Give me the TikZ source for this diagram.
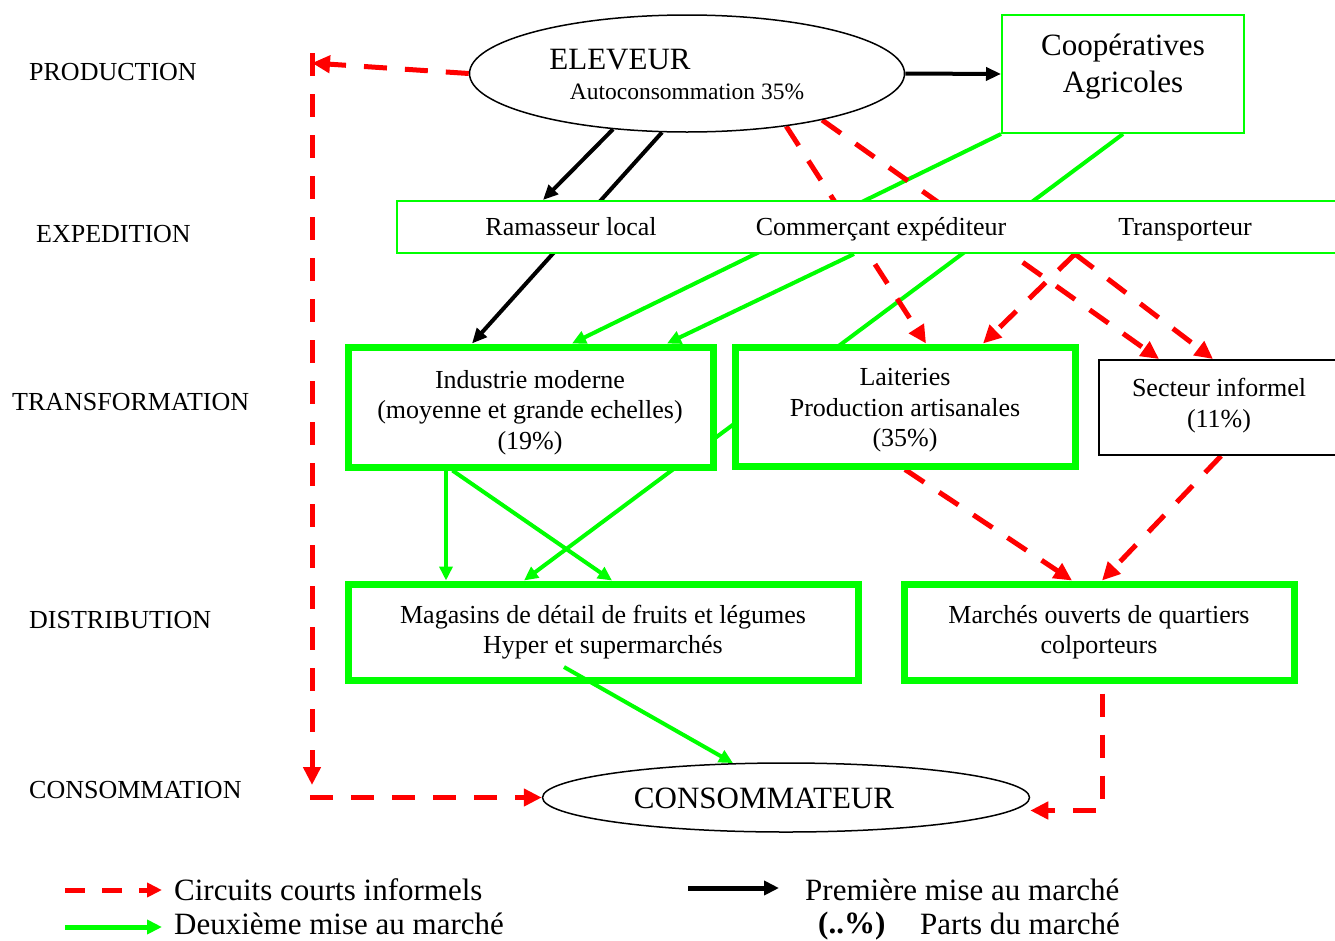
\documentclass[tikz,border=0pt]{standalone}
\usepackage{fontspec}
\setmainfont{Liberation Serif}
\usetikzlibrary{arrows.meta,shapes.geometric}
\pgfdeclarelayer{bg}
\pgfsetlayers{bg,main}
\definecolor{vert}{RGB}{0,255,0}
\definecolor{rouge}{RGB}{255,0,0}
\newcommand{\fLab}{\fontsize{26}{30.5}\selectfont}
\newcommand{\fBig}{\fontsize{31}{37}\selectfont}
\newcommand{\fSmall}{\fontsize{23.5}{28}\selectfont}
\tikzset{
  thickbox/.style={draw=vert, line width=7pt, fill=white, align=center, font=\fLab},
  thinbox/.style={draw=vert, line width=2pt, fill=white},
  blackbox/.style={draw=black, line width=2pt, fill=white},
  oval/.style={ellipse, draw=black, line width=1.5pt, fill=white},
  txt/.style={inner sep=0pt, font=\fLab},
  boxtxt/.style={inner sep=0pt, font=\fLab, align=center},
  legtxt/.style={inner sep=0pt, font=\fBig, anchor=base west},
  redarrow/.style={draw=rouge, line width=5pt, dash pattern=on 23pt off 18pt,
    -{Triangle[length=18pt,width=17pt]}},
  grnarrow/.style={draw=vert, line width=4pt, -{Triangle[length=14pt,width=13pt]}},
  blkarrow/.style={draw=black, line width=4pt, -{Triangle[length=15pt,width=13pt]}},
}
\begin{document}
\begin{tikzpicture}[x=1pt,y=-1pt]
\useasboundingbox (0,0) rectangle (1335,940);

% level labels
\node[txt, anchor=base west] (lprod) at (29,80.5) {PRODUCTION};
\node[txt, anchor=base west] (lexp) at (36,242.5) {EXPEDITION};
\node[txt, anchor=base west] (ltrans) at (12,410.5) {TRANSFORMATION};
\node[txt, anchor=base west] (ldist) at (29,628.5) {DISTRIBUTION};
\node[txt, anchor=base west] (lcons) at (29,798.5) {CONSOMMATION};

% production
\node[oval, minimum width=435pt, minimum height=117pt] (elev) at (687,73.5) {};
\node[txt, font=\fBig, anchor=base] (elevT) at (620,69) {ELEVEUR};
\node[txt, font=\fSmall, anchor=base] (elevS) at (687,99) {Autoconsommation 35\%};
\node[thinbox, minimum width=242pt, minimum height=118pt] (coop) at (1123,74) {};
\node[txt, font=\fBig, align=center] (coopT) at (1123,67) {Coopératives\\Agricoles};

% expedition
\node[thinbox, minimum width=950pt, minimum height=52pt] (exped) at (872,227) {};
\node[txt, anchor=base] (ramas) at (571,235) {Ramasseur local};
\node[txt, anchor=base] (comm) at (881,235) {Commerçant expéditeur};
\node[txt, anchor=base] (transp) at (1185,235) {Transporteur};

% transformation
\node[thickbox, minimum width=365pt, minimum height=120pt] (indus) at (530.5,407) {};
\node[boxtxt] (indusT) at (530,412.5)
  {Industrie moderne\\(moyenne et grande echelles)\\(19\%)};
\node[thickbox, minimum width=340pt, minimum height=119pt] (lait) at (905,406.5) {};
\node[boxtxt] (laitT) at (905,410.5)
  {Laiteries\\Production artisanales\\(35\%)};
\node[blackbox, minimum width=246pt, minimum height=95pt] (sect) at (1222,407.5) {};
\node[boxtxt] (sectT) at (1219,405.5) {Secteur informel\\(11\%)};

% distribution
\node[thickbox, minimum width=510pt, minimum height=96pt] (mag) at (603,632)
  {Magasins de détail de fruits et légumes\\Hyper et supermarchés};
\node[thickbox, minimum width=390pt, minimum height=96pt] (march) at (1099,632)
  {Marchés ouverts de quartiers\\colporteurs};

% consommation
\node[oval, minimum width=487pt, minimum height=69pt] (cons) at (786,797.5) {};
\node[txt, font=\fBig, anchor=base] (consT) at (764,808) {CONSOMMATEUR};

% free ends of the short informal circuit
\coordinate (retour) at (312,63);
\coordinate (vhaut) at (312,53);
\coordinate (vbas) at (312,785);
\coordinate (hdep) at (310,797.5);
\coordinate (apex) at ([xshift=203pt]exped.south);

\begin{pgfonlayer}{bg}
  % first market placement
  \draw[blkarrow] (elev.east) -- (coop.west);
  \draw[blkarrow] (elev.217) -- ([xshift=-329pt]exped.north);
  \draw[blkarrow] (elev.247) -- ([xshift=-58.5pt]indus.north);
  % second market placement
  \draw[grnarrow] (coop.south west) -- ([xshift=41.5pt]indus.north);
  \draw[grnarrow] ([xshift=-18pt]exped.south) -- ([xshift=136.5pt]indus.north);
  \draw[grnarrow] (coop.south) -- ([xshift=-79pt]mag.north);
  \draw[grnarrow] ([xshift=-84.5pt]indus.south) -- ([xshift=-157pt]mag.north);
  \draw[grnarrow] ([xshift=-78pt]indus.south) -- ([xshift=9pt]mag.north);
  % short informal circuits
  \draw[redarrow] (elev.west) -- (retour);
  \draw[redarrow] (vhaut) -- (vbas);
  \draw[redarrow] (hdep) -- (cons.west);
  \draw[redarrow] (elev.332) -- ([xshift=21pt]lait.north);
  \draw[redarrow] (elev.341) -- ([xshift=-63pt]sect.north);
  \draw[redarrow] (apex) -- ([xshift=78pt]lait.north);
  \draw[redarrow] (apex) -- ([xshift=-9pt]sect.north);
  \draw[redarrow] (lait.south) -- ([xshift=-27pt]march.north);
  \draw[redarrow] ([xshift=-1pt]sect.south) -- ([xshift=3pt]march.north);
  \draw[redarrow] ([xshift=3pt,yshift=-10pt]march.south) |- ([yshift=-13pt]cons.east);
\end{pgfonlayer}
\draw[grnarrow] ([xshift=-39pt,yshift=-35pt]mag.center) -- (cons.147);

% legend
\coordinate (lr1) at (65,890);
\coordinate (lr2) at (162,890);
\coordinate (lg1) at (65,927);
\coordinate (lg2) at (162,927);
\coordinate (lb1) at (688,888);
\coordinate (lb2) at (779,888);
\draw[redarrow, dash pattern=on 20pt off 17pt, -{Triangle[length=15pt,width=14pt]}] (lr1) -- (lr2);
\draw[grnarrow, line width=5pt, -{Triangle[length=15pt,width=14pt]}] (lg1) -- (lg2);
\draw[blkarrow, line width=5pt, -{Triangle[length=15pt,width=14pt]}] (lb1) -- (lb2);
\node[legtxt] (lrT) at (174,900) {Circuits courts informels};
\node[legtxt] (lgT) at (174,934) {Deuxième mise au marché};
\node[legtxt] (lbT) at (805,900) {Première mise au marché};
\node[legtxt] (lpT) at (818,933) {\textbf{(..\%)}};
\node[legtxt] (lpT2) at (920,934) {Parts du marché};
\end{tikzpicture}
\end{document}
